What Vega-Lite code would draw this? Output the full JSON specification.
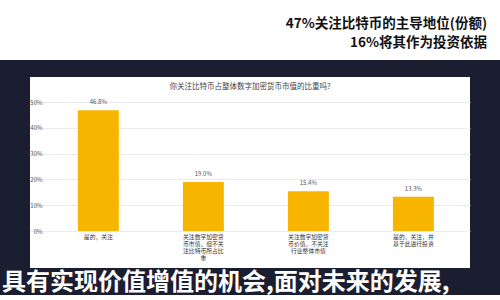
{
  "$schema": "https://vega.github.io/schema/vega-lite/v6.json",
  "background": "#1b1e30",
  "padding": 0,
  "spacing": 17,
  "center": true,
  "title": {
    "text": "具有实现价值增值的机会,面对未来的发展,",
    "orient": "bottom",
    "anchor": "start",
    "offset": 3,
    "fontSize": 24,
    "fontWeight": "bold",
    "font": "Noto Sans CJK SC",
    "color": "#ffffff",
    "dx": 2
  },
  "config": {
    "view": {"stroke": null},
    "font": "Noto Sans CJK SC"
  },
  "vconcat": [
    {
      "width": 500,
      "height": 60,
      "view": {"fill": "#ffffff", "stroke": null},
      "data": {"values": []},
      "mark": "text",
      "title": {
        "text": ["47%关注比特币的主导地位(份额)", "16%将其作为投资依据"],
        "orient": "top",
        "anchor": "end",
        "offset": -49,
        "dx": -13,
        "fontSize": 13.5,
        "fontWeight": "bold",
        "color": "#111111",
        "lineHeight": 19,
        "font": "Noto Sans CJK SC"
      }
    },
    {
      "width": 440,
      "height": 191,
      "view": {"fill": "#ffffff", "stroke": null},
      "title": {
        "text": "你关注比特币占整体数字加密货币市值的比重吗?",
        "orient": "top",
        "anchor": "middle",
        "offset": -13,
        "fontSize": 7.5,
        "fontWeight": "normal",
        "color": "#444444",
        "font": "Noto Sans CJK SC"
      },
      "data": {
        "values": [
          {"answer": "是的，关注", "share": 46.8},
          {"answer": "关注数字加密货币市值，但不关注比特币所占比重", "share": 19.0},
          {"answer": "关注数字加密货币价值，不关注行业整体市值", "share": 15.4},
          {"answer": "是的，关注，并基于此进行投资", "share": 13.3}
        ]
      },
      "encoding": {
        "x": {
          "field": "answer",
          "type": "nominal",
          "sort": null,
          "scale": {"paddingInner": 0.61, "paddingOuter": 0.4, "align": 0.57},
          "axis": {
            "title": null,
            "orient": "bottom",
            "offset": -37,
            "ticks": false,
            "domain": false,
            "labelAngle": 0,
            "labelPadding": 2,
            "labelFontSize": 5.8,
            "labelLineHeight": 7.2,
            "labelColor": "#333333",
            "labelBaseline": "top",
            "labelExpr": "[substring(datum.label,0,7), substring(datum.label,7,14), substring(datum.label,14,21), substring(datum.label,21,28)]"
          }
        },
        "y": {
          "field": "share",
          "type": "quantitative",
          "scale": {"domain": [-14.3, 59.7], "nice": false, "zero": false},
          "axis": {
            "title": null,
            "values": [0, 10, 20, 30, 40, 50],
            "labelExpr": "datum.value + '%'",
            "offset": -14,
            "ticks": false,
            "domain": false,
            "labelPadding": 2,
            "labelFontSize": 6,
            "labelColor": "#555555",
            "gridColor": "#e6e6e6",
            "gridWidth": 0.8
          }
        }
      },
      "layer": [
        {
          "mark": {"type": "bar", "color": "#f7b500"},
          "encoding": {"y2": {"datum": 0}}
        },
        {
          "mark": {"type": "text", "baseline": "bottom", "dy": -5, "fontSize": 6, "color": "#555555", "text": {"expr": "format(datum.share, '.1f') + '%'"}}
        }
      ]
    }
  ]
}
